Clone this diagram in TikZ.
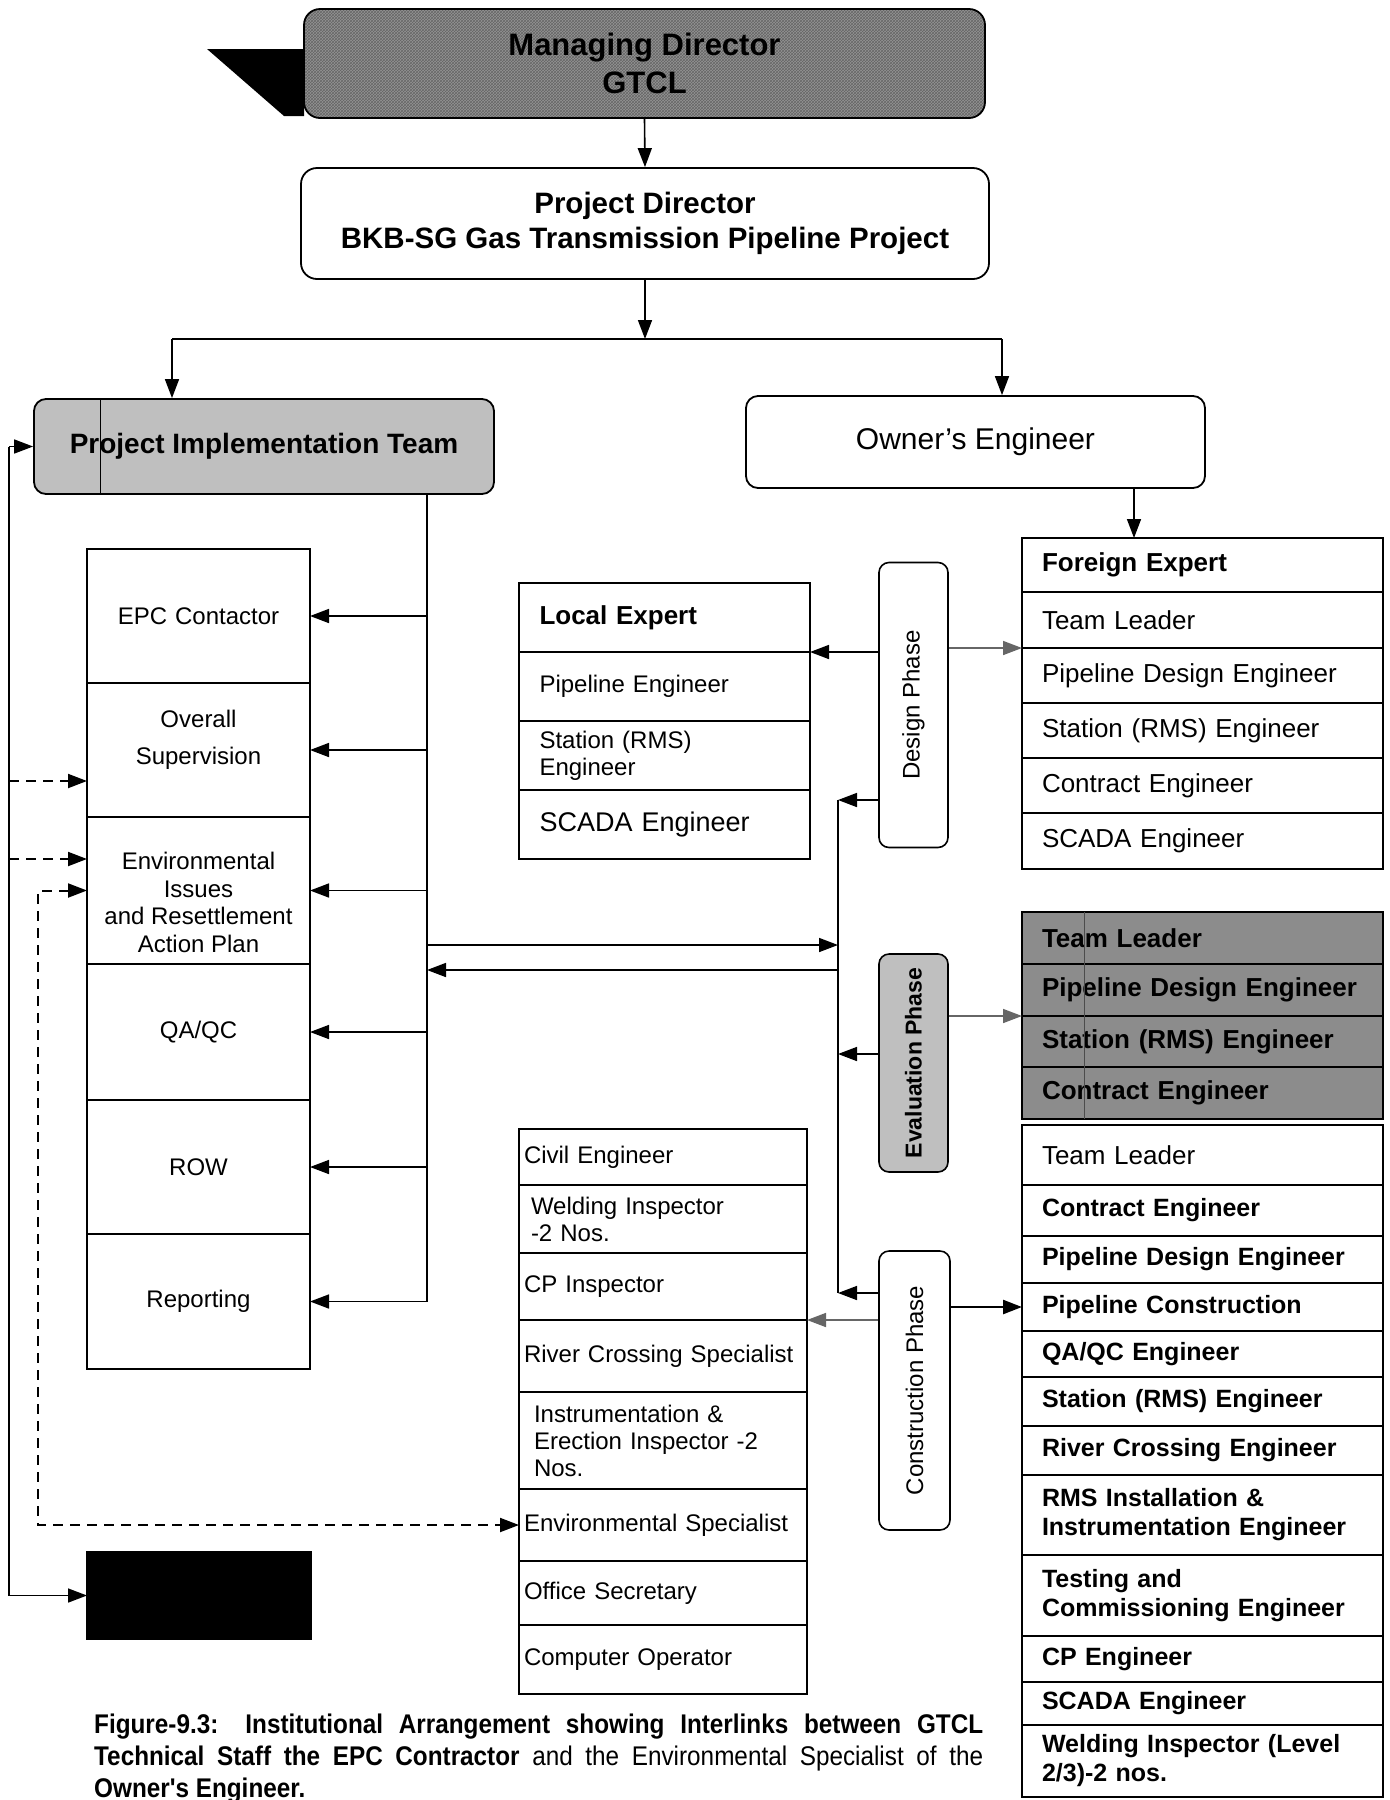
\documentclass[tikz,border=0pt]{standalone}
\usepackage{fontspec}
\setmainfont{Liberation Sans}
\newfontfamily\narrowsans[FakeStretch=0.9]{Liberation Sans}
\usepackage{graphicx}
\usetikzlibrary{arrows.meta,calc,patterns}
\newcommand{\setfs}[2]{\fontsize{#1pt}{#2pt}\selectfont}

\begin{document}
\begin{tikzpicture}[x=1pt,y=-1pt,
  box/.style={draw, line width=1.8pt, inner sep=0pt, align=center},
  rbox/.style={box, rounded corners=16pt},
  cell/.style={draw, line width=1.6pt, anchor=north west, inner ysep=0pt, outer sep=0pt},
  lcell/.style={cell, minimum width=223pt, text width=211pt, inner xsep=6pt, align=center, font=\setfs{24}{27}},
  ltext/.style={inner sep=0pt, align=center, font=\setfs{24}{27.5}},
  lecell/.style={cell, minimum width=291pt, text width=250pt, inner xsep=20.5pt, align=left, font=\setfs{24}{27}},
  fecell/.style={cell, minimum width=361pt, text width=321pt, inner xsep=20pt, align=left, font=\setfs{26}{29}},
  evcell/.style={fecell, fill=black!45, font=\bfseries\setfs{26}{29}},
  cocell/.style={fecell, font=\bfseries\setfs{25}{29}},
  stcell/.style={cell, minimum width=288pt, text width=278pt, inner xsep=5pt, align=left, font=\setfs{24}{27}},
  phase/.style={draw, line width=1.6pt, rounded corners=10pt, minimum width=69pt, inner sep=0pt, font=\setfs{24}{27}},
  tip/.tip={Triangle[length=19pt,width=14pt]},
  arr/.style={-tip, line width=1.6pt},
  garr/.style={arr, draw=black!60},
  dasharr/.style={arr, line width=2pt, dash pattern=on 10pt off 7pt},
  ddasharr/.style={dasharr, tip-tip},
  link/.style={line width=1.6pt}
]
\useasboundingbox (0,0) rectangle (1390,1800);
\fill[white] (0,0) rectangle (1390,1800);

% ---------- top of the hierarchy ----------
\fill (207,49) -- (304,49) -- (304,116) -- (284,116) -- cycle;
\node[rbox, minimum width=681pt, minimum height=109pt, preaction={fill=black!42},
      pattern=crosshatch, pattern color=black!60, font=\bfseries\setfs{31}{38}]
      (md) at (644.5,63.5) {Managing Director\\GTCL};
\node[rbox, minimum width=688pt, minimum height=111pt, font=\bfseries\setfs{29.5}{35}]
      (pd) at (645,223.5) {Project Director\\BKB-SG Gas Transmission Pipeline Project};
\node[rbox, rounded corners=12pt, minimum width=460pt, minimum height=95pt, fill=black!25,
      font=\bfseries\setfs{28}{32}] (pit) at (264,446.5) {Project Implementation Team};
\node[rbox, rounded corners=12pt, minimum width=459pt, minimum height=92pt,
      font=\setfs{30}{34}] (oe) at (975.5,442) {Owner's Engineer};
\draw[line width=0.8pt] ($(pit.north west)+(67,0)$) -- ($(pit.south west)+(67,0)$);

% ---------- GTCL column ----------
\node[lcell, minimum height=134pt] (epc) at (87,549) {EPC Contactor};
\node[lcell, minimum height=134pt] (ovs) at (87,683) {};
\node[ltext] (ovst) at ($(ovs.center)+(0,-10)$) {Overall\\[10pt]Supervision};
\node[lcell, minimum height=147pt] (env) at (87,817) {};
\node[ltext] (envt) at ($(env.center)+(0,12)$) {Environmental\\Issues\\and Resettlement\\Action Plan};
\node[lcell, minimum height=136pt] (qa)  at (87,964) {QA/QC};
\node[lcell, minimum height=134pt] (row) at (87,1100) {ROW};
\node[lcell, minimum height=135pt] (rep) at (87,1234) {Reporting};
\node[cell, fill=black, minimum width=224pt, minimum height=87pt] (blk) at (87,1552) {};

% ---------- local experts ----------
\node[lecell, minimum height=69pt, font=\bfseries\setfs{26}{29}] (le0) at (519,583) {Local Expert};
\node[lecell, minimum height=69pt] (le1) at (519,652) {Pipeline Engineer};
\node[lecell, minimum height=69pt] (le2) at (519,721) {Station (RMS)\\Engineer};
\node[lecell, minimum height=69pt, font=\setfs{27}{30}] (le3) at (519,790) {SCADA Engineer};

% ---------- foreign experts, design phase ----------
\node[fecell, minimum height=54pt, font=\bfseries\setfs{26}{29}] (fe0) at (1022,538) {Foreign Expert};
\node[fecell, minimum height=56pt] (fe1) at (1022,592) {Team Leader};
\node[fecell, minimum height=55pt] (fe2) at (1022,648) {Pipeline Design Engineer};
\node[fecell, minimum height=55pt] (fe3) at (1022,703) {Station (RMS) Engineer};
\node[fecell, minimum height=55pt] (fe4) at (1022,758) {Contract Engineer};
\node[fecell, minimum height=56pt] (fe5) at (1022,813) {SCADA Engineer};

% ---------- evaluation phase team ----------
\node[evcell, minimum height=52pt] (ev1) at (1022,912)  {Team Leader};
\node[evcell, minimum height=52pt] (ev2) at (1022,964)  {Pipeline Design Engineer};
\node[evcell, minimum height=51pt] (ev3) at (1022,1016) {Station (RMS) Engineer};
\node[evcell, minimum height=52pt] (ev4) at (1022,1067) {Contract Engineer};
\draw[line width=0.6pt, black!70] ($(ev1.north west)+(62,0)$) -- ($(ev4.south west)+(62,0)$);

% ---------- construction phase team ----------
\node[fecell, minimum height=60pt] (co1) at (1022,1125) {Team Leader};
\node[cocell, minimum height=51pt] (co2) at (1022,1185) {Contract Engineer};
\node[cocell, minimum height=47pt] (co3) at (1022,1236) {Pipeline Design Engineer};
\node[cocell, minimum height=48pt] (co4) at (1022,1283) {Pipeline Construction};
\node[cocell, minimum height=46pt] (co5) at (1022,1331) {QA/QC Engineer};
\node[cocell, minimum height=49pt] (co6) at (1022,1377) {Station (RMS) Engineer};
\node[cocell, minimum height=49pt] (co7) at (1022,1426) {River Crossing Engineer};
\node[cocell, minimum height=80pt] (co8) at (1022,1475) {RMS Installation \&\\Instrumentation Engineer};
\node[cocell, minimum height=81pt] (co9) at (1022,1555) {Testing and\\Commissioning Engineer};
\node[cocell, minimum height=46pt] (co10) at (1022,1636) {CP Engineer};
\node[cocell, minimum height=43pt] (co11) at (1022,1682) {SCADA Engineer};
\node[cocell, minimum height=72pt] (co12) at (1022,1725) {Welding Inspector (Level\\2/3)-2 nos.};

% ---------- site staff ----------
\node[stcell, minimum height=56pt] (st1) at (519,1129) {Civil Engineer};
\node[stcell, minimum height=68pt] (st2) at (519,1185) {\hspace*{7pt}Welding Inspector\\\hspace*{7pt}-2 Nos.};
\node[stcell, minimum height=67pt] (st3) at (519,1253) {CP Inspector};
\node[stcell, minimum height=72pt] (st4) at (519,1320) {River Crossing Specialist};
\node[stcell, minimum height=97pt] (st5) at (519,1392) {\hspace*{10pt}Instrumentation \&\\\hspace*{10pt}Erection Inspector -2\\\hspace*{10pt}Nos.};
\node[stcell, minimum height=72pt] (st6) at (519,1489) {Environmental Specialist};
\node[stcell, minimum height=64pt] (st7) at (519,1561) {Office Secretary};
\node[stcell, minimum height=69pt] (st8) at (519,1625) {Computer Operator};

% ---------- phases ----------
\node[phase, minimum height=285pt] (dp) at (913.5,705) {\rotatebox{90}{Design Phase}};
\node[phase, minimum height=218pt, fill=black!25, font=\bfseries\setfs{23}{27}] (ep) at (913.5,1063) {\rotatebox{90}{Evaluation Phase}};
\node[phase, minimum height=279pt, minimum width=71pt] (cp) at (914.5,1390.5) {\rotatebox{90}{Construction Phase}};

% ---------- connectors ----------
\draw[arr] (md.south) -- (pd.north);
\coordinate (sl) at (172,339);
\coordinate (sr) at (1002,339);
\draw[link] (sl) -- (sr);
\draw[arr] (pd.south) -- (pd.south |- sl);
\draw[arr] (sl) -- (sl |- pit.north);
\draw[arr] (sr) -- (sr |- oe.north);
\coordinate (oex) at (1134,500);
\draw[arr] (oe.south -| oex) -- (fe0.north -| oex);

% distribution line of the implementation team
\coordinate (pl) at (427,0);
\draw[link] (pit.south -| pl) -- (rep.east -| pl);
\foreach \c in {epc,ovs,env,qa,row,rep} \draw[arr] (\c.east -| pl) -- (\c.east);

% outer feedback line
\coordinate (ol) at (9,0);
\draw[arr] (pit.west -| ol) -- (pit.west);
\draw[arr] (pit.west -| ol) -- (blk.west -| ol) -- (blk.west);

% environmental links (dashed)
\coordinate (d1) at ($(ovs.west)+(0,31)$);
\coordinate (d2) at ($(env.west)+(0,-31.5)$);
\coordinate (dx) at (38,0);
\draw[dasharr] (d1 -| ol) -- (d1);
\draw[dasharr] (d2 -| ol) -- (d2);
\draw[ddasharr] (env.west) -- (env.west -| dx) -- (st6.west -| dx) -- (st6.west);

% owner's engineer collector line
\coordinate (vt) at (838,800);
\coordinate (vb) at (838,1293);
\coordinate (ex) at (838,1054);
\coordinate (h1) at (838,945);
\coordinate (h2) at (838,970);
\draw[link] (vt) -- (vb);
\draw[arr] (dp.west |- vt) -- (vt);
\draw[arr] (ep.west |- ex) -- (ex);
\draw[arr] (cp.west |- vb) -- (vb);
\draw[arr] (h1 -| pl) -- (h1);
\draw[arr] (h2) -- (h2 -| pl);

% phase links to the expert lists
\draw[arr] (dp.west |- le0.south east) -- (le0.south east);
\draw[garr] (dp.east |- fe1.south west) -- (fe1.south west);
\draw[garr] (ep.east |- ev3.north west) -- (ev3.north west);
\draw[arr, line width=2.5pt] (cp.east |- co4.west) -- (co4.west);
\draw[garr] (cp.west |- st4.north east) -- (st4.north east);

% ---------- caption ----------
\node[anchor=north west, inner sep=0pt, align=left, font=\narrowsans\setfs{27}{32}] (cap) at (94,1714)
 {\makebox[889pt][s]{\bfseries Figure-9.3: Institutional Arrangement showing Interlinks between GTCL}\\
  \makebox[889pt][s]{{\bfseries Technical Staff the EPC Contractor} and the Environmental Specialist of the}\\
  \textbf{Owner's Engineer.}};
\end{tikzpicture}
\end{document}
